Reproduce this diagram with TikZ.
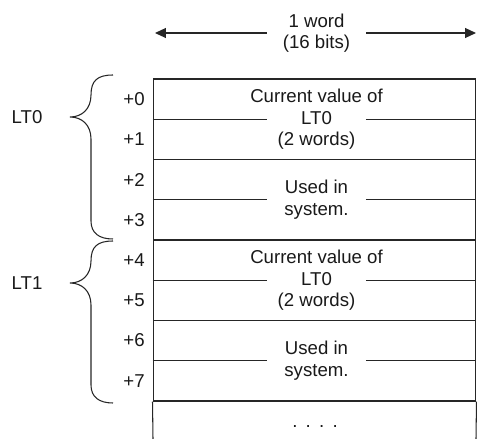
\documentclass[tikz,border=0pt]{standalone}
\usepackage{fontspec}
\setmainfont{Liberation Sans}
\usetikzlibrary{arrows.meta, positioning}

\begin{document}
\begin{tikzpicture}[
    x=0.02cm, y=-0.02cm,
    rule/.style={draw=black!85, line width=0.6pt},
    txt/.style={font=\fontsize{10.6}{12.2}\selectfont, text=black!90, align=center, inner sep=0pt},
    blk/.style={rule, minimum width=6.46cm, minimum height=1.61cm, inner sep=0pt},
    offs/.style={txt, anchor=east},
    wid/.style={rule, -{Triangle[length=0.22cm, width=0.2cm]}}
  ]
  \useasboundingbox (0,0) rectangle (477,439);

  % Width of one word
  \node[txt, minimum width=1.98cm] (word) at (316.5,33) {1 word\\(16 bits)};
  \coordinate (wl) at (155,33);
  \coordinate (wr) at (476,33);
  \draw[wid] (word.west) -- (wl);
  \draw[wid] (word.east) -- (wr);

  % Memory blocks, two words each
  \foreach \k/\body in {0/{Current value of\\LT0\\(2 words)}, 1/{Used in\\system.},
                        2/{Current value of\\LT0\\(2 words)}, 3/{Used in\\system.}} {
    \node[blk] (blk\k) at (314.5, 119.25+80.5*\k) {};
    \node[txt] (body\k) at (316.5, 119.25+80.5*\k) {\body};
    \draw[rule] (blk\k.west) -- ([xshift=-0.99cm]body\k.center);
    \draw[rule] ([xshift=0.99cm]body\k.center) -- (blk\k.east);
  }

  % Open end below
  \coordinate (endl) at (153,439);
  \coordinate (endr) at (476,439);
  \draw[rule] (blk3.south west) -- (endl);
  \draw[rule] (blk3.south east) -- (endr);
  \node[txt, anchor=base] (more) at (315,427) {.\hspace{4.7pt}.\hspace{4.7pt}.\hspace{4.7pt}.};

  % Word offsets
  \foreach \i in {0,...,7}
    \node[offs] (off\i) at (145, 99+40.25*\i) {+\i};

  % Braces for LT0 and LT1
  \foreach \t/\b/\n in {75/239/0, 241/403/1} {
    \pgfmathsetmacro\tipy{\t+42}
    \coordinate (tip\n) at (70,\tipy);
    \draw[rule] (113,\t) .. controls (97,\t) and (91,\t+6) .. (91,\t+20)
      .. controls (91,\t+34) and (82,\t+42) .. (tip\n)
      .. controls (82,\t+42) and (91,\t+50) .. (91,\t+64)
      -- (91,\b-18)
      .. controls (91,\b-6) and (99,\b) .. (113,\b);
    \node[txt] (lt\n) at (27,\tipy) {LT\n};
  }
\end{tikzpicture}
\end{document}
